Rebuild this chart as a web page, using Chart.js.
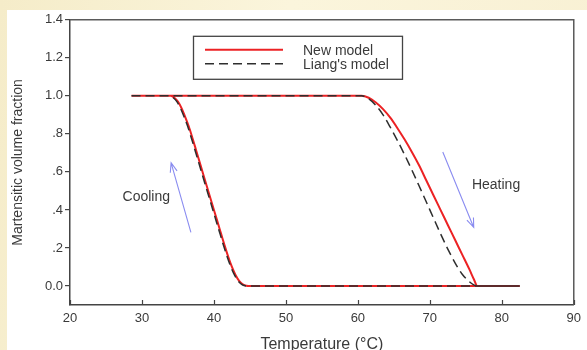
<!DOCTYPE html>
<html>
<head>
<meta charset="utf-8">
<script src="https://cdn.jsdelivr.net/npm/chart.js@4/dist/chart.umd.min.js"></script>
<style>
  html, body { margin: 0; padding: 0; width: 587px; height: 350px; overflow: hidden; }
  body { position: relative; background: linear-gradient(100deg, #f5ecc9 0%, #fbf5dc 45%, #f8f0d3 100%); }
  #panel { position: absolute; left: 7px; top: 10px; width: 580px; height: 340px; background: #ffffff; }
  canvas { display: block; }
</style>
</head>
<body>
<div id="panel"><canvas id="c" width="580" height="340"></canvas></div>
<script>
// Martensitic volume fraction vs. temperature (heating and cooling branches)

// New model — heating branch
const newHeatT = [28.55, 60.5, 61.5, 62.5, 63.5, 64.5, 65.5, 66.5, 67.5, 68.5, 69.5, 70.5, 71.5, 72.5, 73.5, 74.5, 75.5, 76.1, 76.6, 82.5];
const newHeatV = [1, 1, 0.99, 0.965, 0.93, 0.885, 0.83, 0.77, 0.705, 0.635, 0.556, 0.477, 0.399, 0.321, 0.243, 0.165, 0.087, 0.037, 0, 0];
// New model — cooling branch
const newCoolT = [28.55, 34.0, 34.5, 35.0, 35.5, 36.0, 36.5, 37.0, 37.5, 38.0, 38.5, 39.0, 39.5, 40.0, 40.5, 41.0, 41.5, 42.0, 42.5, 43.0, 43.5, 44.0, 44.5, 44.8, 82.5];
const newCoolV = [1, 1, 0.99, 0.97, 0.935, 0.89, 0.84, 0.78, 0.717, 0.653, 0.589, 0.526, 0.463, 0.40, 0.337, 0.274, 0.211, 0.152, 0.10, 0.058, 0.027, 0.009, 0.001, 0, 0];

// Liang's model — heating branch
const liangHeatT = [28.55, 60.5, 61.5, 62.5, 63.5, 64.5, 65.5, 66.5, 67.5, 68.5, 69.5, 70.5, 71.5, 72.5, 73.5, 74.5, 75.5, 76.1, 76.6, 82.5];
const liangHeatV = [1, 1, 0.985, 0.95, 0.90, 0.835, 0.765, 0.69, 0.61, 0.527, 0.443, 0.358, 0.274, 0.194, 0.122, 0.062, 0.022, 0.006, 0, 0];
// Liang's model — cooling branch
const liangCoolT = [28.55, 33.85, 34.35, 34.85, 35.35, 35.85, 36.35, 36.85, 37.35, 37.85, 38.35, 38.85, 39.35, 39.85, 40.35, 40.85, 41.35, 41.85, 42.35, 42.85, 43.35, 43.85, 44.35, 44.65, 82.5];
const liangCoolV = [1, 1, 0.99, 0.97, 0.935, 0.89, 0.84, 0.78, 0.717, 0.653, 0.589, 0.526, 0.463, 0.40, 0.337, 0.274, 0.211, 0.152, 0.10, 0.058, 0.027, 0.009, 0.001, 0, 0];

const seriesNames = ['New model', "Liang's model"];

// Axis ticks
const xTickValues = [20, 30, 40, 50, 60, 70, 80, 90];
const yTickValues = [0, 0.2, 0.4, 0.6, 0.8, 1.0, 1.2, 1.4];
const yTickLabels = ['0.0', '.2', '.4', '.6', '.8', '1.0', '1.2', '1.4'];

// Direction arrows [tailT, tailV, headT, headV] and their labels [text, T, V]
const coolArrow = [36.8, 0.282, 34.05, 0.648];
const heatArrow = [71.8, 0.705, 76.1, 0.308];
const coolLabel = ['Cooling', 30.6, 0.465];
const heatLabel = ['Heating', 79.2, 0.533];

const FONT = "'Liberation Sans', Arial, Helvetica, sans-serif";
const TEXT = '#3a3a3a';

function branchPoints(tA, vA, tB, vB) {
  const pts = tA.map((t, i) => ({ x: t, y: vA[i] }));
  pts.push({ x: null, y: null });
  return pts.concat(tB.map((t, i) => ({ x: t, y: vB[i] })));
}

const overlay = {
  id: 'overlay',
  afterDraw(chart) {
    const { ctx, chartArea: a, scales: { x, y } } = chart;
    ctx.save();

    // top and right edges of the plot frame
    ctx.strokeStyle = '#5a5a5a';
    ctx.lineWidth = 1.5;
    ctx.beginPath();
    ctx.moveTo(a.left, a.top);
    ctx.lineTo(a.right, a.top);
    ctx.lineTo(a.right, a.bottom);
    ctx.stroke();

    // inward tick marks on the temperature axis
    ctx.strokeStyle = '#444';
    ctx.lineWidth = 1.2;
    xTickValues.forEach(v => {
      const px = Math.round(x.getPixelForValue(v)) + 0.5;
      ctx.beginPath();
      ctx.moveTo(px, a.bottom);
      ctx.lineTo(px, a.bottom - 5);
      ctx.stroke();
    });

    // arrows
    function arrow(spec) {
      const x0 = x.getPixelForValue(spec[0]), y0 = y.getPixelForValue(spec[1]);
      const x1 = x.getPixelForValue(spec[2]), y1 = y.getPixelForValue(spec[3]);
      const ang = Math.atan2(y1 - y0, x1 - x0);
      const L = 10, w = 0.36;
      ctx.strokeStyle = '#8a8cf0';
      ctx.lineWidth = 1.1;
      ctx.beginPath();
      ctx.moveTo(x0, y0);
      ctx.lineTo(x1, y1);
      ctx.moveTo(x1 - L * Math.cos(ang - w), y1 - L * Math.sin(ang - w));
      ctx.lineTo(x1, y1);
      ctx.lineTo(x1 - L * Math.cos(ang + w), y1 - L * Math.sin(ang + w));
      ctx.stroke();
    }
    arrow(coolArrow);
    arrow(heatArrow);

    ctx.fillStyle = TEXT;
    ctx.font = '14px ' + FONT;
    ctx.textAlign = 'center';
    ctx.textBaseline = 'middle';
    [coolLabel, heatLabel].forEach(l => {
      ctx.fillText(l[0], x.getPixelForValue(l[1]), y.getPixelForValue(l[2]));
    });

    // legend box
    const bx = a.left + 123, by = a.top + 16, bw = 209, bh = 43;
    ctx.fillStyle = '#fff';
    ctx.fillRect(bx, by, bw, bh);
    ctx.strokeStyle = '#444';
    ctx.lineWidth = 1.3;
    ctx.strokeRect(bx + 0.5, by + 0.5, bw, bh);
    chart.data.datasets.forEach((ds, i) => {
      const ly = by + 14 + i * 14;
      ctx.strokeStyle = ds.borderColor;
      ctx.lineWidth = ds.borderWidth;
      ctx.setLineDash(ds.borderDash || []);
      ctx.beginPath();
      ctx.moveTo(bx + 12, ly);
      ctx.lineTo(bx + 90, ly);
      ctx.stroke();
      ctx.setLineDash([]);
      ctx.fillStyle = TEXT;
      ctx.textAlign = 'left';
      ctx.font = '14px ' + FONT;
      ctx.fillText(ds.label, bx + 110, ly + 1);
    });

    ctx.restore();
  }
};

new Chart(document.getElementById('c'), {
  type: 'line',
  data: {
    datasets: [
      {
        label: seriesNames[0],
        data: branchPoints(newHeatT, newHeatV, newCoolT, newCoolV),
        borderColor: '#ec2224',
        borderWidth: 2,
        pointRadius: 0,
        fill: false,
        spanGaps: false,
        cubicInterpolationMode: 'monotone',
        order: 2
      },
      {
        label: seriesNames[1],
        data: branchPoints(liangHeatT, liangHeatV, liangCoolT, liangCoolV),
        borderColor: '#2e2e2e',
        borderWidth: 1.5,
        borderDash: [9, 5],
        pointRadius: 0,
        fill: false,
        spanGaps: false,
        cubicInterpolationMode: 'monotone',
        order: 1
      }
    ]
  },
  options: {
    responsive: false,
    devicePixelRatio: 1,
    animation: false,
    events: [],
    layout: { padding: { left: 0, top: 9, right: 3, bottom: 0 } },
    plugins: { legend: { display: false }, tooltip: { enabled: false } },
    scales: {
      x: {
        type: 'linear',
        min: 20,
        max: 90,
        afterBuildTicks: s => { s.ticks = xTickValues.map(v => ({ value: v })); },
        afterFit: s => { s.height = 45; },
        grid: { drawOnChartArea: false, drawTicks: false },
        border: { display: true, color: '#444', width: 1.5 },
        ticks: { color: TEXT, font: { family: FONT, size: 13 }, padding: 6, maxRotation: 0, autoSkip: false },
        title: { display: true, text: 'Temperature (°C)', color: TEXT, font: { family: FONT, size: 16 }, padding: { top: 0, bottom: -4 } }
      },
      y: {
        type: 'linear',
        min: -0.1,
        max: 1.4,
        afterBuildTicks: s => { s.ticks = yTickValues.map(v => ({ value: v })); },
        afterFit: s => { s.width = 63; },
        grid: { drawOnChartArea: false, drawTicks: true, tickLength: 5, color: '#444', lineWidth: 1.2 },
        border: { display: true, color: '#444', width: 1.5 },
        ticks: {
          color: TEXT,
          font: { family: FONT, size: 13 },
          padding: 2,
          autoSkip: false,
          callback: (v) => { const i = yTickValues.findIndex(t => Math.abs(t - v) < 1e-9); return i >= 0 ? yTickLabels[i] : ''; }
        },
        title: { display: true, text: 'Martensitic volume fraction', color: TEXT, font: { family: FONT, size: 14 }, padding: { top: 3, bottom: 3 } }
      }
    }
  },
  plugins: [overlay]
});
</script>
</body>
</html>
